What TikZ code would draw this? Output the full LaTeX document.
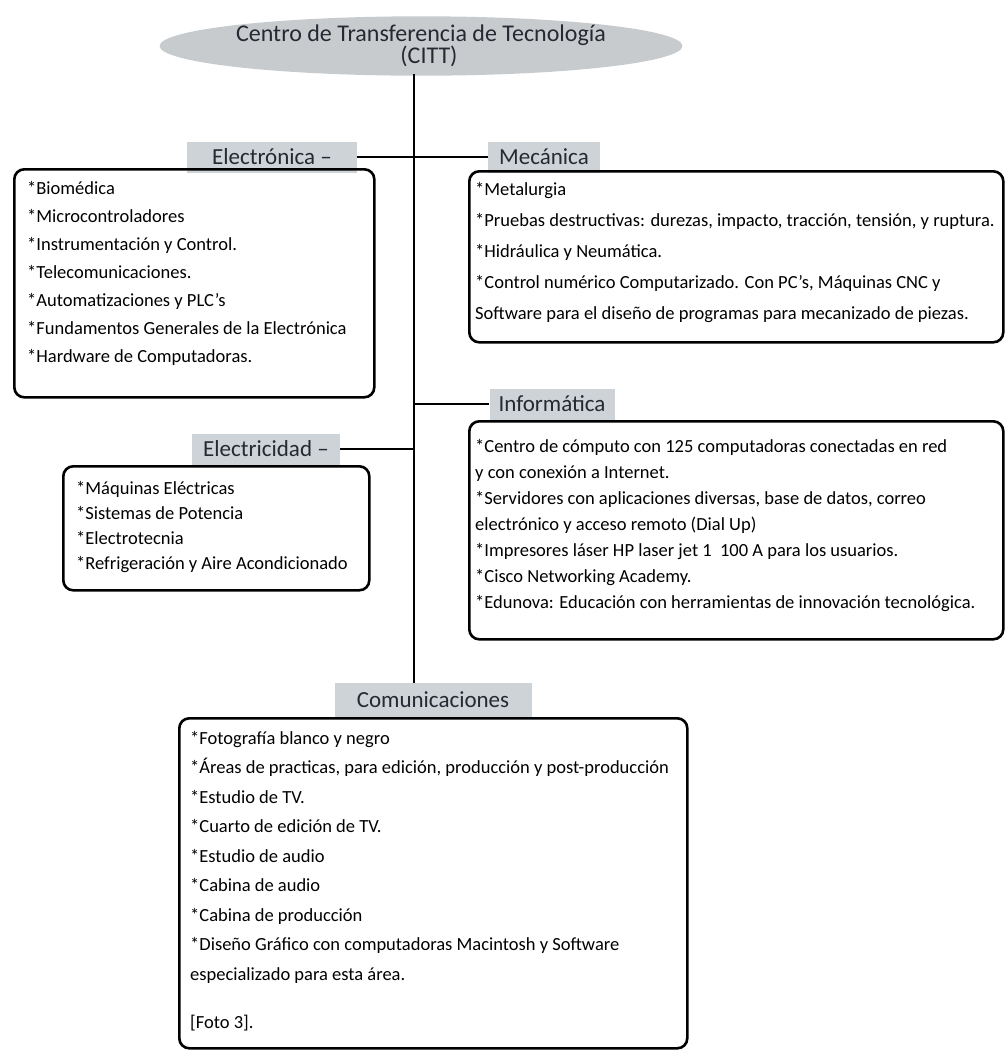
\documentclass[tikz,border=0pt]{standalone}
\usepackage{fontspec}
\setmainfont{Carlito}
\usetikzlibrary{shapes.geometric}
\definecolor{lblgray}{RGB}{206,211,216}
\definecolor{elgray}{RGB}{200,203,206}
\definecolor{ink}{RGB}{38,40,50}
\begin{document}
\begin{tikzpicture}[x=1pt,y=-1pt,
  box/.style={draw=black, line width=2.6pt, rounded corners=10pt, anchor=north west, inner sep=0pt},
  lbl/.style={fill=lblgray, text=ink, font=\fontsize{23}{23}\selectfont, inner sep=0pt, anchor=center},
  item/.style={font=\fontsize{18.5}{18.5}\selectfont, inner sep=0pt, anchor=base west},
  conn/.style={draw=black, line width=2.6pt}]
\useasboundingbox (0,0) rectangle (1007,1050);
% title
\node[ellipse, fill=elgray, minimum width=416pt, minimum height=58pt, inner sep=0pt,
      text=ink, align=center, font=\fontsize{24}{22}\selectfont] (title) at (421,46)
      {Centro de Transferencia de Tecnología\\\hspace*{16pt}(CITT)};
\coordinate (trtop) at (414,74);
% labels (drawn first, boxes go over)
\node[lbl, minimum width=170pt, minimum height=31pt] (elab) at (272,157) {Electrónica –};
\node[lbl, minimum width=112pt, minimum height=31pt] (mlab) at (544,157) {Mecánica};
\node[lbl, minimum width=125pt, minimum height=31pt] (ilab) at (552,404) {Informática};
\node[lbl, minimum width=148pt, minimum height=31pt] (clab) at (266,449) {Electricidad –};
\node[lbl, minimum width=197pt, minimum height=34pt] (comlab) at (433,700) {Comunicaciones};
% boxes
\node[box, minimum width=360pt, minimum height=228pt] (ebox) at (13,168) {};
\node[box, minimum width=534pt, minimum height=171pt] (mbox) at (468,170) {};
\node[box, minimum width=534pt, minimum height=218pt] (ibox) at (468,420) {};
\node[box, minimum width=306pt, minimum height=124pt] (cbox) at (62,465) {};
\node[box, minimum width=508pt, minimum height=330pt] (combox) at (178,717) {};
% connectors
\draw[conn] (trtop) -- (trtop |- comlab.north);
\draw[conn] (elab.east) -- (mlab.west);
\draw[conn] (clab.east) -- (clab.east -| trtop);
\draw[conn] (trtop |- ilab.west) -- (ilab.west);
% items
\foreach \t [count=\i from 0] in {{*Biomédica},{*Microcontroladores},{*Instrumentación y Control.},{*Telecomunicaciones.},{*Automatizaciones y PLC's},{*Fundamentos Generales de la Electrónica},{*Hardware de Computadoras.}}
  \node[item] (e\i) at (27,194+28*\i) {\t};
\foreach \t [count=\i from 0] in {{*Metalurgia},{*Pruebas destructivas: durezas, impacto, tracción, tensión, y ruptura.},{*Hidráulica y Neumática.},{*Control numérico Computarizado. Con PC's, Máquinas CNC y},{Software para el diseño de programas para mecanizado de piezas.}}
  \node[item] (m\i) at (475,195+31*\i) {\t};
\foreach \t [count=\i from 0] in {{*Centro de cómputo con 125 computadoras conectadas en red},{y con conexión a Internet.},{*Servidores con aplicaciones diversas, base de datos, correo},{electrónico y acceso remoto (Dial Up)},{*Impresores láser HP laser jet 1\ \ 100 A para los usuarios.},{*Cisco Networking Academy.},{*Edunova: Educación con herramientas de innovación tecnológica.}}
  \node[item] (i\i) at (475,452+26*\i) {\t};
\foreach \t [count=\i from 0] in {{*Máquinas Eléctricas},{*Sistemas de Potencia},{*Electrotecnia},{*Refrigeración y Aire Acondicionado}}
  \node[item] (c\i) at (76,494+25*\i) {\t};
\foreach \t [count=\i from 0] in {{*Fotografía blanco y negro},{*Áreas de practicas, para edición, producción y post-producción},{*Estudio de TV.},{*Cuarto de edición de TV.},{*Estudio de audio},{*Cabina de audio},{*Cabina de producción},{*Diseño Gráfico con computadoras Macintosh y Software},{especializado para esta área.}}
  \node[item] (k\i) at (190,744+29.5*\i) {\t};
\node[item] (k9) at (190,1028) {[Foto 3].};
\end{tikzpicture}
\end{document}
